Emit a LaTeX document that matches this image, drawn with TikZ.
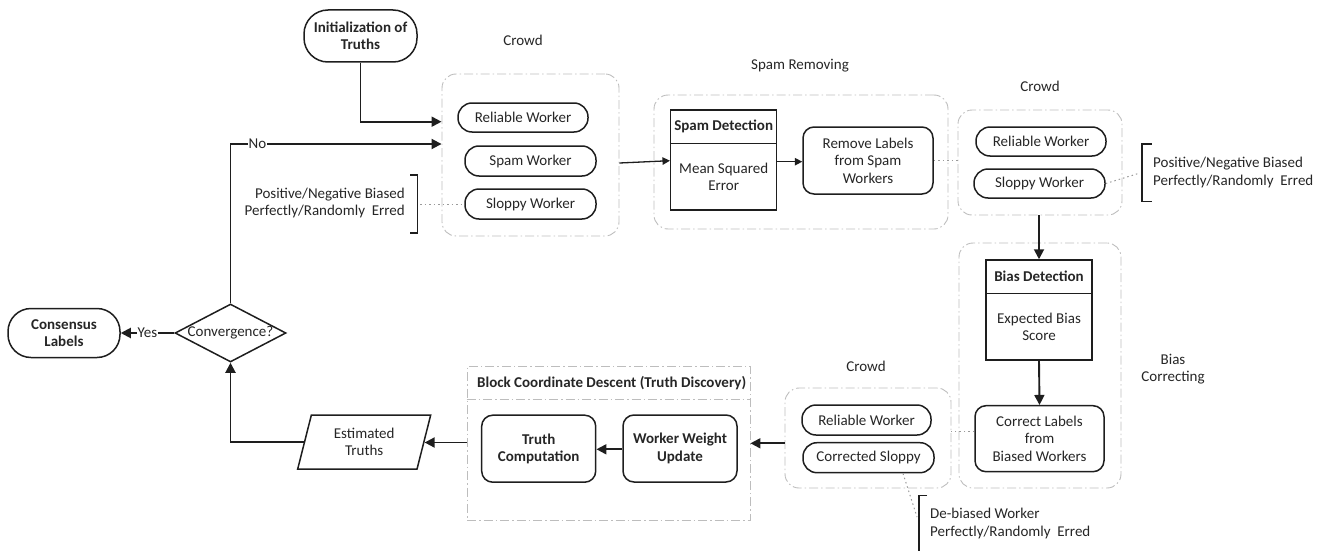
\documentclass[tikz,border=0pt]{standalone}
\usepackage{fontspec}
\setmainfont{Carlito}
\usetikzlibrary{arrows.meta,shapes.geometric,shapes.misc}
\definecolor{ink}{HTML}{1E1E1E}
\definecolor{txtc}{HTML}{262626}
\definecolor{grpc}{HTML}{BDBDBD}
\definecolor{dotc}{HTML}{9A9A9A}
\begin{document}
\begin{tikzpicture}[x=1pt,y=-1pt,
  font=\fontsize{15}{17.5}\selectfont,
  every node/.style={text=txtc},
  box/.style={draw=ink, line width=1.5pt, align=center, inner sep=0pt},
  pill/.style={box, rounded corners=14pt, minimum height=29pt},
  rbox/.style={box, rounded corners=11pt, minimum height=67pt},
  grp/.style={draw=grpc, line width=0.9pt, dash pattern=on 9pt off 3pt on 1.5pt off 3pt, rounded corners=14pt, inner sep=0pt},
  grpsq/.style={draw=grpc, line width=0.9pt, dash pattern=on 9pt off 3pt on 1.5pt off 3pt, inner sep=0pt},
  grpline/.style={draw=grpc, line width=0.9pt, dash pattern=on 9pt off 3pt on 1.5pt off 3pt},
  arrB/.style={draw=ink, line width=1.9pt, -{Triangle[length=10pt,width=10pt]}},
  arrS/.style={draw=ink, line width=1.3pt, -{Triangle[length=7.5pt,width=7.5pt]}},
  dotl/.style={draw=dotc, line width=1pt, dash pattern=on 1.5pt off 3pt},
  brk/.style={draw=ink, line width=1.4pt},
  lbl/.style={fill=white, inner sep=1pt},
  note/.style={inner sep=0pt},
  bold/.style={font=\fontsize{15}{17.5}\selectfont\bfseries}
]
\useasboundingbox (0,0) rectangle (1322,551);

% ---------- group frames ----------
\node[grp, minimum width=177pt, minimum height=162pt] (crowd1) at (530.5,155) {};
\node[grp, minimum width=294pt, minimum height=134pt] (spamgrp) at (801,162) {};
\node[grp, minimum width=164pt, minimum height=105pt] (crowd2) at (1040,162.5) {};
\node[grp, minimum width=162pt, minimum height=245pt] (biasgrp) at (1040,365.5) {};
\node[grp, minimum width=166pt, minimum height=100pt] (crowd3) at (868,438) {};
\node[grpsq, minimum width=283pt, minimum height=154pt] (block) at (608.5,443) {};
\draw[grpline] (block.west |- 0,399.3) -- (block.east |- 0,399.3);

% ---------- group titles ----------
\node (tcrowd1) at (523,40) {Crowd};
\node (tspam) at (800,66) {Spam Removing};
\node (tcrowd2) at (1040,86) {Crowd};
\node[align=center] (tbias) at (1173,369) {Bias\\Correcting};
\node (tcrowd3) at (866,366) {Crowd};
\node[bold, note, anchor=west] (tblock) at (477,382.7) {Block Coordinate Descent (Truth Discovery)};

% ---------- nodes ----------
\node[box, bold, rounded corners=24pt, minimum width=113pt, minimum height=52pt] (init) at (360.5,36) {Initialization of\\Truths};

\node[pill, minimum width=130pt] (rw1) at (523,117.5) {Reliable Worker};
\node[pill, minimum width=131pt, minimum height=30pt] (sw1) at (530.5,161) {Spam Worker};
\node[pill, minimum width=131pt, minimum height=30pt] (sl1) at (530.5,204) {Sloppy Worker};

\node[box, minimum width=106pt, minimum height=100pt] (spamdet) at (723.7,160) {};
\draw[brk] (spamdet.west |- 0,143.3) -- (spamdet.east |- 0,143.3);
\node[bold] (spamdett) at (723.7,126.7) {Spam Detection};
\node[align=center] (spamdetb) at (723.7,176.7) {Mean Squared\\Error};

\node[rbox, minimum width=130pt] (remove) at (868,160.5) {Remove Labels\\from Spam\\Workers};

\node[pill, minimum width=130pt] (rw2) at (1041,141.5) {Reliable Worker};
\node[pill, minimum width=131pt] (sl2) at (1039.5,183.5) {Sloppy Worker};

\node[box, minimum width=106pt, minimum height=100pt] (biasdet) at (1039,310) {};
\draw[brk] (biasdet.west |- 0,293.3) -- (biasdet.east |- 0,293.3);
\node[bold] (biasdett) at (1039,276.7) {Bias Detection};
\node[align=center] (biasdetb) at (1039,326.7) {Expected Bias\\Score};

\node[rbox, minimum width=129pt, minimum height=66pt] (correct) at (1039.5,438.7) {Correct Labels\\from\\Biased Workers};

\node[pill, minimum width=129pt, minimum height=30pt] (rw3) at (866.5,420) {Reliable Worker};
\node[pill, minimum width=131pt, minimum height=30pt] (cs3) at (868.5,457.7) {Corrected Sloppy};

\node[rbox, bold, minimum width=114pt] (wwu) at (680,448.5) {Worker Weight\\Update};
\node[rbox, bold, minimum width=114pt] (truth) at (538.7,448.7) {Truth\\Computation};

\node[box, trapezium, trapezium left angle=64, trapezium right angle=116, trapezium stretches body, minimum width=133pt, minimum height=54pt] (est) at (364.2,442) {Estimated\\Truths};

\node[box, diamond, aspect=1.9, minimum width=111pt, minimum height=58pt] (conv) at (230.5,333) {Convergence?};

\node[box, bold, rounded corners=23pt, minimum width=112pt, minimum height=49pt] (cons) at (64,333) {Consensus\\Labels};

% ---------- bracket annotations ----------
\draw[brk] (410,175) -- (417.3,175) -- (417.3,233) -- (410,233);
\coordinate (lbr) at (420,204);
\node[note, anchor=east, align=right] (lbrt) at (405,203) {Positive/Negative Biased\\Perfectly/Randomly\ \ Erred};

\draw[brk] (1151.5,144) -- (1142,144) -- (1142,201.7) -- (1151.5,201.7);
\coordinate (rbr) at (1140,173);
\node[note, anchor=west, align=left] (rbrt) at (1153,172.5) {Positive/Negative Biased\\Perfectly/Randomly\ \ Erred};

\draw[brk] (927,495.5) -- (919,495.5) -- (919,552);
\coordinate (bbr) at (917,517);
\node[note, anchor=west, align=left] (bbrt) at (930,523.5) {De-biased Worker\\Perfectly/Randomly\ \ Erred};

% ---------- connectors ----------
\draw[arrB] (init.south) |- (crowd1.west |- 0,121.7);
\draw[arrB] (conv.north) |- node[lbl, pos=0.564] {No} (crowd1.west |- 0,144);
\draw[arrS] (crowd1.east |- 0,163) -- (spamdet.west |- 0,160.7);
\draw[arrS] (spamdet.east |- 0,161.7) -- (remove.west |- 0,161.7);
\draw[dotl] (remove.east) -- (crowd2.west |- remove.east);
\draw[dotl] (lbr) -- (sl1.west);
\draw[dotl] (sl2.east) -- (rbr);
\draw[arrB] (crowd2.south -| 1039,0) -- (biasdet.north);
\draw[arrB] (biasdet.south) -- (correct.north);
\draw[dotl] (correct.west |- 0,431) -- (crowd3.east |- 0,431);
\draw[arrB] (crowd3.west |- 0,443.3) -- (block.east |- 0,443.3);
\draw[arrB] (wwu.west |- 0,449.3) -- (truth.east |- 0,449.3);
\draw[dotl] (cs3.south -| 903,0) -- (bbr);
\draw[arrB] (block.west |- 0,442.5) -- (est.east |- 0,442.5);
\draw[arrB] (est.west) -| (conv.south);
\draw[arrB] (conv.west) -- node[lbl, pos=0.5] {Yes} (cons.east);
\end{tikzpicture}
\end{document}
